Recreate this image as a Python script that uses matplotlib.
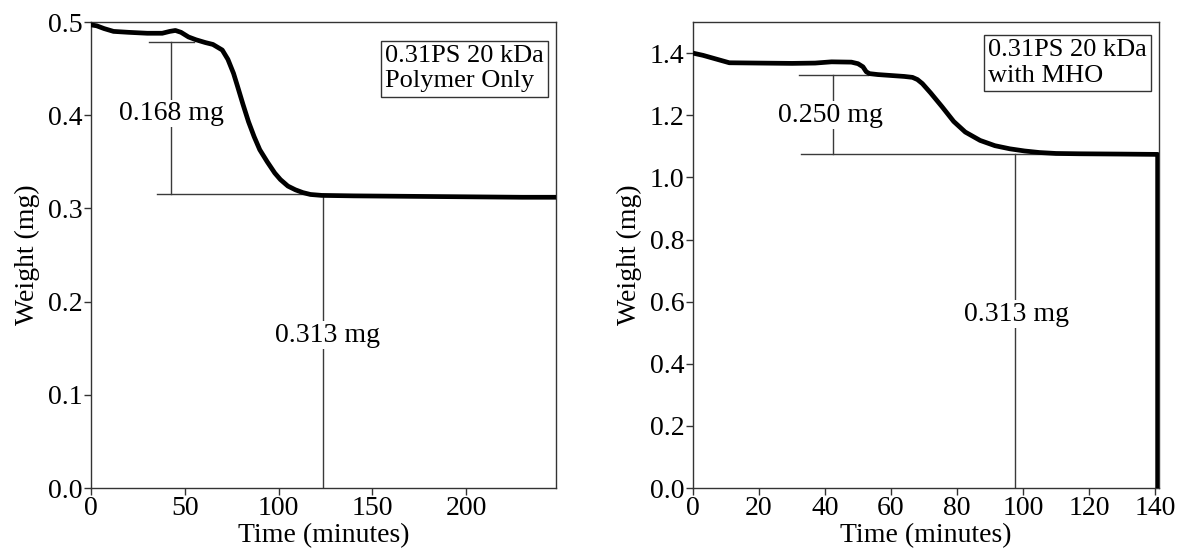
import matplotlib.pyplot as plt

plt.rcParams['font.family'] = ['Liberation Serif', 'DejaVu Serif']

# left panel: polymer only
time_a = [0, 3, 7, 12, 20, 30, 38, 42, 45, 48, 52, 56, 61, 65, 70, 73, 76, 78, 81,
          84, 87, 90, 94, 98, 101, 105, 109, 113, 117, 123, 140, 170, 200, 230, 248]
weight_a = [0.497, 0.496, 0.493, 0.490, 0.489, 0.488, 0.488, 0.490, 0.491, 0.489,
            0.484, 0.481, 0.478, 0.476, 0.470, 0.460, 0.445, 0.432, 0.412, 0.393,
            0.377, 0.363, 0.350, 0.338, 0.331, 0.324, 0.320, 0.317, 0.315, 0.314,
            0.3135, 0.313, 0.3125, 0.312, 0.312]

# right panel: with MHO
time_b = [0, 3, 6, 9, 11, 20, 30, 37, 42, 48, 50, 51.5, 52.5, 53.5, 56, 60, 64, 66.5,
          68, 69.5, 72, 75.5, 79, 82.5, 87, 91.5, 96, 100.5, 105, 110, 117, 130, 140.8,
          140.8]
weight_b = [1.400, 1.393, 1.384, 1.375, 1.369, 1.368, 1.367, 1.368, 1.372, 1.371,
            1.366, 1.356, 1.340, 1.334, 1.331, 1.328, 1.325, 1.322, 1.315, 1.302,
            1.272, 1.227, 1.180, 1.146, 1.119, 1.102, 1.092, 1.085, 1.080, 1.077,
            1.076, 1.075, 1.074, 0.0]

xticks_a = [0, 50, 100, 150, 200]
yticks_a = [0.0, 0.1, 0.2, 0.3, 0.4, 0.5]
xticks_b = [0, 20, 40, 60, 80, 100, 120, 140]
yticks_b = [0.0, 0.2, 0.4, 0.6, 0.8, 1.0, 1.2, 1.4]

# annotation levels (mg)
a_top, a_low = 0.479, 0.315
b_top, b_low = 1.328, 1.076

fig = plt.figure(figsize=(11.79, 5.56), dpi=100)
ax1 = fig.add_axes([0.0772, 0.1223, 0.3944, 0.838])
ax2 = fig.add_axes([0.5878, 0.1223, 0.3952, 0.838])

fs = 20
spine_col = '#333333'
for ax in (ax1, ax2):
    for s in ax.spines.values():
        s.set_color(spine_col)
        s.set_linewidth(1.0)
    ax.tick_params(direction='out', length=5, width=1.0, color=spine_col,
                   labelsize=fs, top=False, right=False, pad=1)
    ax.set_xlabel('Time (minutes)', fontsize=fs, labelpad=1)
    ax.set_ylabel('Weight (mg)', fontsize=fs, labelpad=6)

line_col = '#3a3a3a'

# ---- left
ax1.plot(time_a, weight_a, color='black', lw=3.4, solid_capstyle='round', zorder=3)
ax1.set_xlim(0, 248)
ax1.set_ylim(0, 0.5)
ax1.set_xticks(xticks_a)
ax1.set_yticks(yticks_a)
ax1.set_yticklabels(['%.1f' % v for v in yticks_a])
ax1.plot([31, 55], [a_top, a_top], color=line_col, lw=1)
ax1.plot([35, 118], [a_low, a_low], color=line_col, lw=1)
ax1.plot([42.7, 42.7], [a_low, a_top], color=line_col, lw=1)
ax1.plot([123.7, 123.7], [0, a_low], color=line_col, lw=1)
ax1.text(43, 0.402, '0.168 mg', fontsize=fs, ha='center', va='center',
         bbox=dict(facecolor='white', edgecolor='none', pad=1))
ax1.text(126, 0.164, '0.313 mg', fontsize=fs, ha='center', va='center',
         bbox=dict(facecolor='white', edgecolor='none', pad=1))
ax1.text(0.633, 0.900, '0.31PS 20 kDa\nPolymer Only', transform=ax1.transAxes,
         fontsize=19, ha='left', va='center', linespacing=1.2,
         bbox=dict(facecolor='white', edgecolor=spine_col, lw=1, pad=3))

# ---- right
ax2.plot(time_b, weight_b, color='black', lw=3.4, solid_capstyle='butt', zorder=3)
ax2.set_xlim(0, 141.2)
ax2.set_ylim(0, 1.5)
ax2.set_xticks(xticks_b)
ax2.set_yticks(yticks_b)
ax2.set_yticklabels(['%.1f' % v for v in yticks_b])
ax2.plot([32, 53], [b_top, b_top], color=line_col, lw=1)
ax2.plot([32.6, 141], [b_low, b_low], color=line_col, lw=1)
ax2.plot([42.5, 42.5], [b_low, b_top], color=line_col, lw=1)
ax2.plot([97.6, 97.6], [0, b_low], color=line_col, lw=1)
ax2.text(41.7, 1.2, '0.250 mg', fontsize=fs, ha='center', va='center',
         bbox=dict(facecolor='white', edgecolor='none', pad=1))
ax2.text(97.9, 0.56, '0.313 mg', fontsize=fs, ha='center', va='center',
         bbox=dict(facecolor='white', edgecolor='none', pad=1))
ax2.text(0.633, 0.912, '0.31PS 20 kDa\nwith MHO', transform=ax2.transAxes,
         fontsize=19, ha='left', va='center', linespacing=1.2,
         bbox=dict(facecolor='white', edgecolor=spine_col, lw=1, pad=3))

fig.savefig('out.png', dpi=100)
